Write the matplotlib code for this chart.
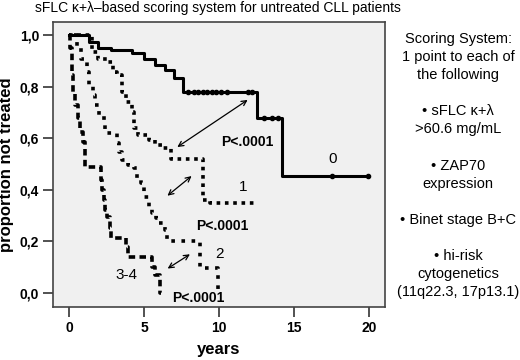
import matplotlib
matplotlib.use('Agg')
import matplotlib.pyplot as plt

plt.rcParams['font.family'] = ['Liberation Sans', 'DejaVu Sans']

# step curves: time (years) and proportion not treated
t0 = [0, 1.3, 1.9, 2.8, 4.2, 5.0, 5.7, 6.4, 7.0, 7.6, 12.5, 14.2, 19.9]
s0 = [1.0, 0.975, 0.95, 0.943, 0.93, 0.91, 0.884, 0.865, 0.833, 0.78, 0.68, 0.454, 0.454]
cens0_t = [7.9, 8.3, 8.6, 8.9, 9.2, 9.5, 9.8, 10.1, 10.5, 11.9, 12.2, 13.0, 13.5, 13.9, 17.5, 19.9]
cens0_s = [0.78] * 11 + [0.68] * 3 + [0.454] * 2

t1 = [0, 1.5, 1.9, 2.6, 2.9, 3.2, 3.5, 3.8, 4.2, 4.3, 4.6, 5.3, 5.7, 6.2, 6.8, 8.9, 9.4, 12.6]
s1 = [1.0, 0.936, 0.91, 0.897, 0.858, 0.845, 0.78, 0.742, 0.703, 0.638, 0.612, 0.593, 0.574, 0.561,
      0.52, 0.36, 0.347, 0.347]

t2 = [0.3, 0.5, 0.8, 1.2, 1.3, 1.6, 1.7, 2.0, 2.3, 2.4, 3.2, 3.3, 3.5, 3.9, 4.3, 4.5, 4.8, 5.0,
      5.3, 5.5, 5.8, 6.0, 6.4, 6.5, 8.7, 9.9, 10.0]
s2 = [1.0, 0.95, 0.91, 0.858, 0.807, 0.768, 0.729, 0.69, 0.664, 0.62, 0.58, 0.548, 0.515, 0.496,
      0.483, 0.444, 0.425, 0.373, 0.334, 0.308, 0.289, 0.27, 0.243, 0.2, 0.096, 0.0, 0.0]

t34 = [0, 0.05, 0.16, 0.27, 0.38, 0.6, 0.71, 0.93, 1.05, 2.1, 2.2, 2.3, 2.4, 2.5, 2.7, 2.8, 3.8,
       3.9, 5.5, 5.7, 6.05, 6.1]
s34 = [1.0, 0.95, 0.845, 0.78, 0.729, 0.677, 0.625, 0.586, 0.49, 0.438, 0.399, 0.36, 0.321, 0.295,
       0.25, 0.211, 0.179, 0.14, 0.101, 0.069, 0.0, 0.0]

group_labels = ['0', '1', '2', '3-4']
label_pos = [(17.6, 0.52), (11.6, 0.41), (10.0, 0.15), (3.8, 0.07)]

p_labels = ['P<.0001', 'P<.0001', 'P<.0001']
p_pos = [(11.9, 0.585), (10.2, 0.26), (8.6, -0.022)]
arrows = [((7.05, 0.56), (12.05, 0.755)),
          ((6.4, 0.37), (8.3, 0.46)),
          ((6.4, 0.088), (8.2, 0.155))]

x_ticks = [0, 5, 10, 15, 20]
y_ticks = [0.0, 0.2, 0.4, 0.6, 0.8, 1.0]
y_ticklabels = ['0,0', '0,2', '0,4', '0,6', '0,8', '1,0']

scoring_text = ('Scoring System:\n1 point to each of\nthe following\n\n'
                '\u2022 sFLC \u03ba+\u03bb\n>60.6 mg/mL\n\n'
                '\u2022 ZAP70\nexpression\n\n'
                '\u2022 Binet stage B+C\n\n'
                '\u2022 hi-risk\ncytogenetics\n(11q22.3, 17p13.1)')

fig = plt.figure(figsize=(5.2, 3.6), dpi=100)
ax = fig.add_axes([0.102, 0.147, 0.638, 0.792])
ax.set_facecolor('#f0f0f0')

ax.plot(t0, s0, drawstyle='steps-post', color='black', lw=2.2)
ax.plot(cens0_t, cens0_s, 'o', color='black', ms=3)
ax.plot(t1, s1, drawstyle='steps-post', color='black', lw=2.6, linestyle=(0, (1, 1.3)))
ax.plot(t2, s2, drawstyle='steps-post', color='black', lw=2.6, linestyle=(0, (1, 1.8)))
ax.plot(t34, s34, drawstyle='steps-post', color='black', lw=2.6, linestyle=(0, (1.8, 1.2)))

for lab, (x, y) in zip(group_labels, label_pos):
    ax.text(x, y, lab, fontsize=11, ha='center', va='center')
for lab, (x, y) in zip(p_labels, p_pos):
    ax.text(x, y, lab, fontsize=10, fontweight='bold', ha='center', va='center')
for a, b in arrows:
    ax.annotate('', xy=b, xytext=a,
                arrowprops=dict(arrowstyle='<->', color='black', lw=0.9, mutation_scale=9))

ax.set_xlim(-1.09, 21.05)
ax.set_ylim(-0.056, 1.052)
ax.set_xticks(x_ticks)
ax.set_xticklabels([str(v) for v in x_ticks], fontsize=10, fontweight='bold')
ax.set_yticks(y_ticks)
ax.set_yticklabels(y_ticklabels, fontsize=10, fontweight='bold')
ax.tick_params(direction='out', length=7, width=1.2, color='#333333', pad=3)
for sp in ax.spines.values():
    sp.set_color('#444444')
    sp.set_linewidth(1.2)

ax.set_xlabel('years', fontsize=12, fontweight='bold', labelpad=5)
ax.set_ylabel('proportion not treated', fontsize=12, fontweight='bold', labelpad=4)

fig.text(0.067, 0.979, 'sFLC \u03ba+\u03bb\u2013based scoring system for untreated CLL patients',
         fontsize=10, ha='left', va='center')
fig.text(0.881, 0.911, scoring_text, fontsize=10.5, ha='center', va='top', linespacing=1.37)

fig.savefig('out.png', dpi=100)
